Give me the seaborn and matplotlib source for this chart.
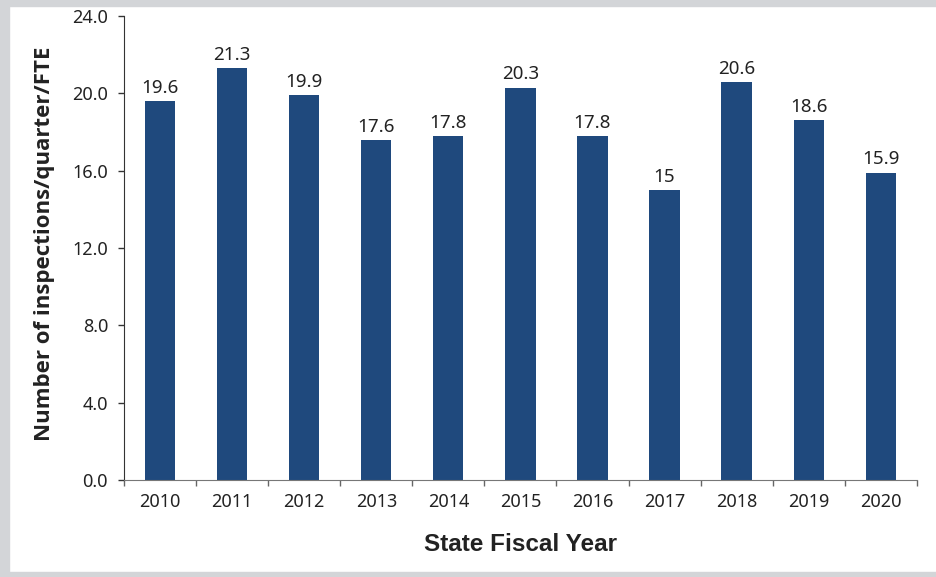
import matplotlib
matplotlib.use('Agg')
import matplotlib.pyplot as plt
import matplotlib.patches as mpatches
from matplotlib.ticker import FixedLocator
import seaborn as sns
import pandas as pd

years = ['2010', '2011', '2012', '2013', '2014', '2015', '2016', '2017', '2018', '2019', '2020']
values = [19.6, 21.3, 19.9, 17.6, 17.8, 20.3, 17.8, 15, 20.6, 18.6, 15.9]
yticks = [0, 4, 8, 12, 16, 20, 24]

df = pd.DataFrame({'year': years, 'value': values})

sns.set_style('white')
plt.rcParams['font.family'] = ['Noto Sans', 'DejaVu Sans']

fig = plt.figure(figsize=(9.36, 5.77), dpi=100)
ax = fig.add_axes([0.1325, 0.1681, 0.847, 0.8042])

sns.barplot(data=df, x='year', y='value', color='#1F497D', width=0.42,
            saturation=1, linewidth=0, ax=ax)

# value labels on top of bars
for i, v in enumerate(values):
    ax.text(i, v + 0.42, '{:g}'.format(v), ha='center', va='baseline',
            fontsize=13.5, color='#222222')

ax.set_ylim(0, 24)
ax.set_xlim(-0.5, len(years) - 0.5)
ax.set_yticks(yticks)
ax.set_yticklabels(['%.1f' % t for t in yticks])

# ticks between the categories, excel style
ax.tick_params(axis='x', which='major', bottom=False, length=0, pad=9, labelsize=13, labelcolor='#222222')
ax.xaxis.set_minor_locator(FixedLocator([i - 0.5 for i in range(len(years) + 1)]))
ax.tick_params(axis='x', which='minor', bottom=True, length=4.5, width=1, color='#666666', direction='out')
ax.tick_params(axis='y', left=True, length=4.5, width=1, color='#333333', direction='out', pad=7,
               labelsize=13, labelcolor='#222222')

for s in ['top', 'right']:
    ax.spines[s].set_visible(False)
ax.spines['left'].set_color('#333333')
ax.spines['bottom'].set_color('#777777')

ax.set_xlabel('State Fiscal Year', fontsize=17.5, fontweight='bold',
              family='Liberation Sans', color='#222222')
ax.xaxis.set_label_coords(0.5, -0.14)
ax.xaxis.label.set_va('center')
ax.set_ylabel('Number of inspections/quarter/FTE', fontsize=16, fontweight='bold',
              family=['Open Sans', 'DejaVu Sans'], color='#222222')
ax.yaxis.set_label_coords(-0.1, 0.51)
ax.yaxis.label.set_va('center')

# grey frame around the figure
grey = '#D3D5D8'
fig.patches.append(mpatches.Rectangle((0, 1 - 6 / 577), 1, 6 / 577, transform=fig.transFigure,
                                      color=grey, zorder=0))
fig.patches.append(mpatches.Rectangle((0, 0), 9 / 936, 1, transform=fig.transFigure,
                                      color=grey, zorder=0))
fig.patches.append(mpatches.Rectangle((0, 0), 1, 5 / 577, transform=fig.transFigure,
                                      color=grey, zorder=0))

fig.savefig('out.png', dpi=100)
